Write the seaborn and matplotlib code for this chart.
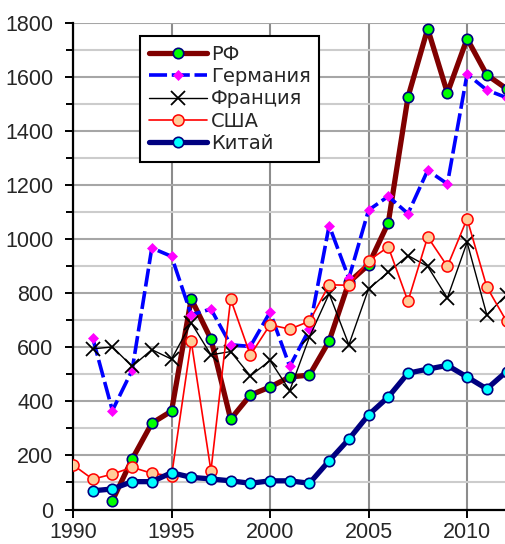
import matplotlib.pyplot as plt
from matplotlib.ticker import MultipleLocator
import seaborn as sns

# values
years_rf = list(range(1992, 2013))
rf = [33, 186, 319, 364, 779, 630, 334, 423, 453, 490, 497, 623, 840, 905,
      1060, 1525, 1778, 1540, 1741, 1607, 1556]

years_de = list(range(1991, 2013))
germany = [634, 366, 515, 967, 936, 720, 741, 609, 603, 730, 529, 667, 1050,
           855, 1107, 1158, 1094, 1254, 1204, 1610, 1551, 1523]

years_fr = list(range(1991, 2013))
france = [594, 601, 529, 591, 556, 690, 572, 584, 494, 551, 440, 638, 798,
          609, 816, 877, 939, 899, 782, 988, 720, 794]

years_us = list(range(1990, 2013))
usa = [165, 112, 131, 156, 134, 124, 622, 143, 778, 571, 683, 667, 696, 831,
       829, 920, 971, 770, 1008, 899, 1075, 823, 696]

years_cn = list(range(1991, 2013))
china = [69, 76, 103, 103, 136, 119, 113, 106, 97, 106, 106, 97, 180, 260,
         350, 416, 504, 519, 533, 490, 446, 510]

labels = ["РФ", "Германия", "Франция", "США", "Китай"]

sns.set_style("white")
plt.rcParams["font.family"] = ["Liberation Sans", "DejaVu Sans"]

fig = plt.figure(figsize=(5.05, 5.44), dpi=100)
ax = fig.add_axes([73 / 505, 1 - 509.5 / 544, (506.5 - 73) / 505, (509.5 - 22.7) / 544])

sns.lineplot(x=years_rf, y=rf, ax=ax, color="#800000", lw=3.8, marker="o", ms=7.5,
             mfc="#00ff00", mec="#000080", mew=1.2, label=labels[0], zorder=3)
sns.lineplot(x=years_de, y=germany, ax=ax, color="#0000ff", lw=2.6, linestyle=(0, (5, 1.3)),
             marker="D", ms=5, mfc="#ff00ff", mec="#ff00ff", mew=0.5, label=labels[1], zorder=4)
sns.lineplot(x=years_fr, y=france, ax=ax, color="black", lw=1.0, marker="x", ms=10,
             mew=1.3, mec="black", label=labels[2], zorder=5)
sns.lineplot(x=years_us, y=usa, ax=ax, color="#ff0000", lw=1.2, marker="o", ms=8,
             mfc="#ffcc99", mec="#ff0000", mew=1.1, label=labels[3], zorder=6)
sns.lineplot(x=years_cn, y=china, ax=ax, color="#000080", lw=3.8, marker="o", ms=7.5,
             mfc="#00ffff", mec="#000080", mew=1.2, label=labels[4], zorder=7)

ax.set_xlim(1990, 2012)
ax.set_ylim(0, 1800)
ax.xaxis.set_major_locator(MultipleLocator(5))
ax.yaxis.set_major_locator(MultipleLocator(200))
ax.yaxis.set_minor_locator(MultipleLocator(100))

ax.grid(True, axis="x", which="major", color="#8c8c8c", lw=1.5)
ax.grid(True, axis="y", which="major", color="#a6a6a6", lw=1.5)
ax.grid(True, axis="y", which="minor", color="#cccccc", lw=1.5)
ax.set_axisbelow(True)

for side in ["top", "right"]:
    ax.spines[side].set_visible(False)
for side in ["left", "bottom"]:
    ax.spines[side].set_color("black")
    ax.spines[side].set_linewidth(1.6)

ax.tick_params(axis="both", which="major", direction="out", length=6, width=1.4,
               color="black", labelsize=15.5, left=True, bottom=True)
ax.tick_params(axis="y", which="major", pad=8)
ax.tick_params(axis="x", which="major", pad=3)
ax.tick_params(axis="y", which="minor", direction="out", length=5, width=1.4,
               color="black", left=True)
ax.set_xlabel("")
ax.set_ylabel("")

leg = ax.legend(loc="upper left", bbox_to_anchor=((140 - 73) / 433.5, (509.5 - 36) / 486.8),
                borderaxespad=0, frameon=True, fancybox=False,
                prop={"family": "DejaVu Sans", "size": 14},
                handlelength=3.0, handletextpad=0.2, labelspacing=0.17,
                borderpad=0.45)
leg.get_frame().set_edgecolor("black")
leg.get_frame().set_linewidth(1.5)
leg.get_frame().set_alpha(1)

fig.savefig("out.png", dpi=100)
